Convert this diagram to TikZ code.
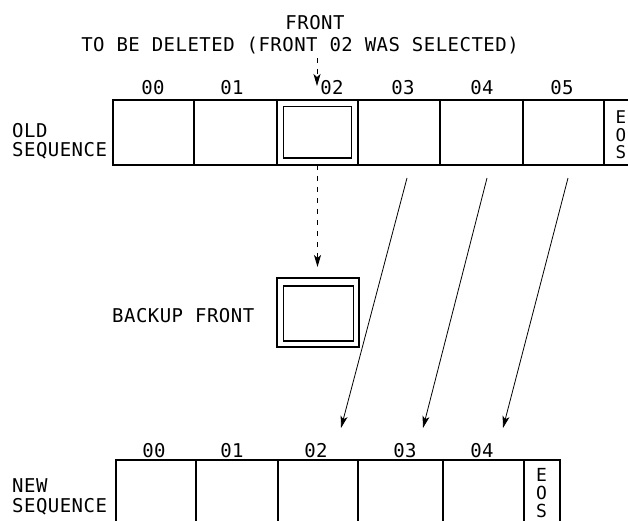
\documentclass[tikz,border=0pt]{standalone}
\usepackage{fontspec}
\setmainfont{DejaVu Sans Mono}[LetterSpace=2.5]
\usetikzlibrary{arrows.meta}
\begin{document}
\begin{tikzpicture}[x=1pt,y=-1pt,
  cell/.style={draw, line width=1.4pt, inner sep=0pt, outer sep=0pt, minimum height=65pt, anchor=north west},
  ncell/.style={cell, minimum height=75pt},
  frame/.style={draw, inner sep=0pt, outer sep=0pt, anchor=north west},
  lbl/.style={inner sep=0pt, anchor=base, font=\fontsize{19}{21}\selectfont},
  lbll/.style={lbl, anchor=base west},
  eos/.style={inner sep=0pt, align=center, anchor=center},
  tip/.style={-{Stealth[length=12pt,width=7pt,inset=3pt]}},
  link/.style={tip, line width=0.8pt},
  dlink/.style={tip, line width=1pt, dash pattern=on 5pt off 6pt}]
\useasboundingbox (0,0) rectangle (628,521);
\clip (0,0) rectangle (628,521);

% header
\node[lbl] (t1) at (315,30) {FRONT};
\node[lbl] (t2) at (300,52) {TO BE DELETED (FRONT 02 WAS SELECTED)};

% old sequence
\node[cell, minimum width=81pt] (o0) at (113,100) {};
\node[cell, minimum width=83pt] (o1) at (194,100) {};
\node[cell, minimum width=81pt] (o2) at (277,100) {};
\node[cell, minimum width=82pt] (o3) at (358,100) {};
\node[cell, minimum width=83pt] (o4) at (440,100) {};
\node[cell, minimum width=81pt] (o5) at (523,100) {};
\node[cell, minimum width=36pt] (oe) at (604,100) {};
\node[frame, line width=1.6pt, minimum width=68pt, minimum height=51.5pt] (o2in) at (283.5,106.7) {};
\node[eos, font=\fontsize{17.5}{17.5}\selectfont] (oeos) at (621,135) {E\\O\\S};

\node[lbl] (ol0) at (153,95) {00};
\node[lbl] (ol1) at (232,95) {01};
\node[lbl] (ol2) at (332,95) {02};
\node[lbl] (ol3) at (403,95) {03};
\node[lbl] (ol4) at (482,95) {04};
\node[lbl] (ol5) at (562,95) {05};
\node[lbll] (old1) at (12,138) {OLD};
\node[lbll] (old2) at (12,157) {SEQUENCE};

% backup front
\node[frame, line width=1.3pt, minimum width=82pt, minimum height=69pt] (bk) at (277,278) {};
\node[frame, line width=1.6pt, minimum width=70pt, minimum height=55pt] (bkin) at (283.5,286) {};
\node[lbll] (bkl) at (112,322) {BACKUP FRONT};

% new sequence
\node[ncell, minimum width=80pt] (n0) at (116,460) {};
\node[ncell, minimum width=82pt] (n1) at (196,460) {};
\node[ncell, minimum width=80pt] (n2) at (278,460) {};
\node[ncell, minimum width=85pt] (n3) at (358,460) {};
\node[ncell, minimum width=81pt] (n4) at (443,460) {};
\node[ncell, minimum width=36pt] (ne) at (524,460) {};
\node[eos, font=\fontsize{18}{18}\selectfont] (neos) at (541.5,493) {E\\O\\S};

\node[lbl] (nl0) at (154,457) {00};
\node[lbl] (nl1) at (232,457) {01};
\node[lbl] (nl2) at (316,457) {02};
\node[lbl] (nl3) at (405,457) {03};
\node[lbl] (nl4) at (482,457) {04};
\node[lbll] (new1) at (12,492) {NEW};
\node[lbll] (new2) at (12,512) {SEQUENCE};

% connectors
\coordinate (h0) at (317,58);
\coordinate (h1) at (317,86);
\draw[dlink] (h0) -- (h1);
\coordinate (d1) at (317.5,267);
\draw[dlink] (o2.south) -- (d1);

\coordinate (a1s) at (407,178); \coordinate (a1e) at (341,428);
\coordinate (a2s) at (487,178); \coordinate (a2e) at (423,428);
\coordinate (a3s) at (568,178); \coordinate (a3e) at (503,428);
\draw[link] (a1s) -- (a1e);
\draw[link] (a2s) -- (a2e);
\draw[link] (a3s) -- (a3e);
\end{tikzpicture}
\end{document}
